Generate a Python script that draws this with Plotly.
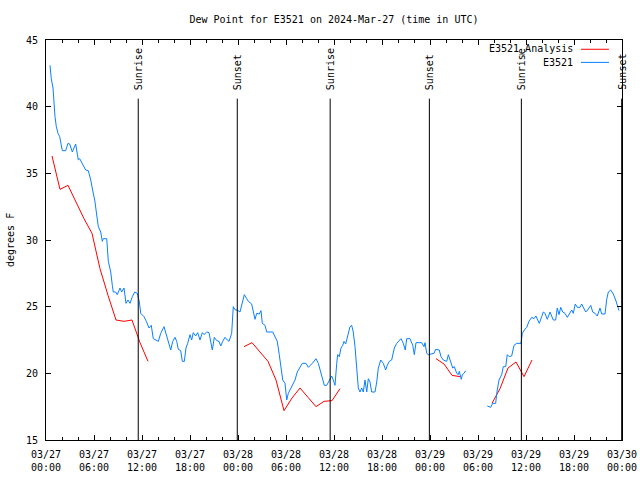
import pandas as pd
import plotly.graph_objects as go

base = pd.Timestamp("2024-03-27 00:00")

# Observed dew point (E3521), hours after 03/27 00:00 UTC
blue_hours = [
    0.5, 0.66, 0.875, 1.0, 1.125, 1.29, 1.5, 1.71, 1.91, 2.04, 2.46, 2.75, 2.96, 3.29, 3.71,
    4.04, 4.21, 4.54, 4.96, 5.29, 5.59, 5.875, 6.09, 6.29, 6.54, 6.84, 7.04, 7.16, 7.59, 7.79,
    8.09, 8.29, 8.41, 8.71, 8.91, 9.25, 9.46, 9.75, 10.0, 10.25, 10.5, 10.79, 11.09, 11.41,
    11.66, 11.84, 12.25, 12.54, 12.875, 13.16, 13.41, 14.04, 14.34, 14.75, 15.09, 15.41,
    15.59, 15.84, 16.125, 16.34, 16.54, 16.84, 17.04, 17.29, 17.5, 17.71, 18.0, 18.21, 18.41,
    18.71, 18.96, 19.25, 19.54, 19.75, 20.09, 20.375, 20.625, 20.79, 21.04, 21.34, 21.625,
    21.84, 22.09, 22.375, 22.66, 22.875, 23.21, 23.41, 23.66, 23.91, 24.25, 24.54, 24.79,
    25.09, 25.29, 25.71, 25.91, 26.125, 26.34, 26.66, 26.875, 27.04, 27.375, 27.59, 28.34,
    28.625, 28.91, 29.16, 29.375, 29.59, 29.875, 30.09, 30.29, 30.5, 30.84, 31.125, 31.41,
    31.75, 32.04, 32.5, 32.79, 33.29, 33.75, 34.04, 34.34, 34.59, 34.79, 35.09, 35.41,
    35.71, 35.91, 36.125, 36.34, 36.46, 36.66, 36.875, 37.09, 37.25, 37.46, 37.79, 38.0,
    38.21, 38.41, 38.625, 38.84, 39.04, 39.25, 39.46, 39.66, 39.875, 40.09, 40.29, 40.5,
    40.71, 41.125, 41.34, 41.54, 41.84, 42.16, 42.46, 42.66, 42.91, 43.21, 43.54, 43.84,
    44.125, 44.375, 44.66, 44.91, 45.09, 45.5, 45.84, 46.04, 46.25, 46.96, 47.25, 47.375,
    47.59, 47.79, 48.5, 48.71, 49.16, 49.375, 49.66, 50.09, 50.29, 50.59, 50.84, 51.04,
    51.34, 51.54, 51.66, 51.91, 52.04, 52.25, 52.46,
    55.16, 55.59, 55.84, 56.21, 56.34, 56.625, 56.96, 57.16, 57.46, 57.66, 57.91, 58.21,
    58.5, 58.84, 59.375, 59.54, 59.79, 60.09, 60.375, 60.71, 61.0, 61.25, 61.46, 61.66,
    61.96, 62.16, 62.375, 62.66, 63.0, 63.21, 63.41, 63.71, 63.91, 64.125, 64.34, 64.59,
    64.875, 65.16, 65.41, 65.71, 65.91, 66.16, 66.41, 66.75, 66.96, 67.16, 67.46, 67.71,
    68.09, 68.34, 68.625, 68.91, 69.25, 69.46, 69.875, 70.09, 70.29, 70.59, 70.91, 71.21,
    71.41, 71.625,
]
blue_values = [
    43.1, 42.1, 41.4, 40.1, 39.25, 38.5, 38.0, 37.75, 37.1, 36.7, 36.7, 37.25, 37.2, 36.6, 37.2,
    36.0, 36.1, 35.75, 35.25, 35.2, 34.5, 33.6, 33.0, 32.1, 31.0, 30.6, 29.9, 30.1, 30.1, 28.4,
    27.6, 26.6, 26.1, 26.1, 25.9, 26.4, 26.1, 26.4, 25.25, 25.5, 25.25, 25.75, 26.1, 26.0,
    25.4, 24.5, 24.25, 23.9, 23.4, 23.6, 22.6, 22.4, 23.0, 23.5, 22.75, 22.0,
    21.75, 22.4, 22.7, 22.4, 21.8, 21.7, 20.9, 20.9, 21.9, 22.25, 22.9, 22.5, 23.05,
    22.8, 23.05, 22.5, 23.05, 22.9, 23.1, 23.05, 22.1, 21.75, 22.7, 22.45, 22.4,
    22.05, 22.4, 22.7, 22.5, 22.4, 23.0, 25.0, 24.75, 24.75, 24.6, 25.4, 25.9,
    25.6, 25.4, 25.2, 24.5, 24.05, 24.5, 24.45, 24.7, 23.75, 23.6, 23.1, 23.1,
    22.75, 22.4, 21.4, 20.25, 19.5, 19.25, 18.0, 18.5, 18.75, 19.25, 19.5, 20.1,
    20.45, 20.75, 20.75, 20.45, 20.75, 21.1, 20.75, 20.1, 19.6, 19.1, 19.1, 19.5,
    19.8, 19.5, 19.1, 20.75, 21.4, 21.25, 21.9, 22.1, 22.4, 22.2, 23.0, 23.5,
    23.6, 23.1, 22.0, 20.5, 18.9, 18.6, 18.9, 18.6, 19.5, 18.6, 19.6, 19.35,
    18.6, 18.6, 19.35, 20.4, 21.0, 20.75, 20.25, 20.6, 20.9, 21.0, 21.9, 22.25,
    22.4, 22.6, 22.25, 21.75, 22.6, 22.6, 22.1, 21.4, 22.3, 22.3, 22.0, 22.3,
    21.5, 21.4, 21.5, 21.8, 21.75, 21.25, 21.0, 20.9, 21.4, 20.75, 20.4, 20.5,
    20.0, 19.9, 20.15, 19.55, 19.9, 20.0, 20.2,
    17.55, 17.45, 17.75, 17.75, 18.5, 19.5, 19.9, 20.5, 20.5, 21.4, 21.25, 21.3,
    22.1, 22.25, 22.25, 23.0, 23.25, 23.45, 23.9, 24.2, 24.1, 24.3, 24.0, 23.75,
    24.25, 24.6, 24.5, 24.05, 24.6, 24.3, 24.0, 24.0, 24.9, 24.4, 24.95, 24.6,
    24.5, 24.2, 24.5, 24.75, 24.5, 25.2, 24.95, 24.95, 25.2, 25.0, 24.6, 24.75,
    25.1, 24.6, 24.5, 24.3, 24.9, 24.45, 24.45, 25.55, 26.1, 26.25, 25.95, 25.5,
    25.1, 24.7,
]

# Analysis (E3521_Analysis), hourly
red_hours = [
    0.75, 1.75, 2.75, 3.75, 4.75, 5.75, 6.75, 7.75, 8.75, 9.75, 10.75, 11.75, 12.75,
    24.75, 25.75, 26.75, 27.75, 28.75, 29.75, 30.75, 31.75, 32.75, 33.75, 34.75, 35.75, 36.75,
    48.75, 49.75, 50.75, 51.75,
    55.75, 56.75, 57.75, 58.75, 59.75, 60.75,
]
red_values = [
    36.3, 33.8, 34.1, 32.8, 31.6, 30.5, 27.85, 25.85, 24.0, 23.9, 24.0, 22.3, 20.9,
    22.0, 22.3, 21.6, 20.9, 19.5, 17.2, 18.15, 18.9, 18.2, 17.5, 17.9, 17.95, 18.85,
    21.1, 20.7, 19.85, 19.75,
    17.75, 18.85, 20.4, 20.85, 19.75, 21.0,
]

sunrise_hours = [11.53, 35.52, 59.42]
sunset_hours = [23.91, 47.92, 71.96]

tick_hours = list(range(0, 73, 6))

FONT = "DejaVu Sans Mono"


def with_gaps(hours, values, max_gap=1.5):
    xs, ys = [], []
    prev = None
    for h, v in zip(hours, values):
        if prev is not None and h - prev > max_gap:
            xs.append(None)
            ys.append(None)
        xs.append(base + pd.Timedelta(hours=h))
        ys.append(v)
        prev = h
    return xs, ys


bx, by = with_gaps(blue_hours, blue_values)
rx, ry = with_gaps(red_hours, red_values)

fig = go.Figure()
fig.add_trace(go.Scatter(x=rx, y=ry, mode="lines", name="E3521_Analysis",
                         line=dict(color="#ff0000", width=1), connectgaps=False))
fig.add_trace(go.Scatter(x=bx, y=by, mode="lines", name="E3521",
                         line=dict(color="#0a80ff", width=1), connectgaps=False))

shapes = []
annotations = []
for label, hours in (("Sunrise", sunrise_hours), ("Sunset", sunset_hours)):
    for h in hours:
        t = base + pd.Timedelta(hours=h)
        shapes.append(dict(type="line", xref="x", yref="y", x0=t, x1=t, y0=15, y1=40.6,
                           line=dict(color="black", width=1)))
        annotations.append(dict(x=t, y=0.87, xref="x", yref="paper", text=label,
                                textangle=-90, showarrow=False, xanchor="center",
                                yanchor="bottom", font=dict(family=FONT, size=10, color="black")))

# gnuplot-style legend (text right, sample line after)
legend_items = [("E3521_Analysis", "#ff0000", 0.9768), ("E3521", "#0a80ff", 0.944)]
for name, color, yp in legend_items:
    annotations.append(dict(x=0.9184, y=yp, xref="paper", yref="paper", text=name,
                            showarrow=False, xanchor="right", yanchor="middle",
                            font=dict(family=FONT, size=10, color="black")))
    shapes.append(dict(type="line", xref="paper", yref="paper", x0=0.9288, x1=0.9774,
                       y0=yp, y1=yp, line=dict(color=color, width=1)))

annotations.append(dict(x=-0.0625, y=0.5, xref="paper", yref="paper", text="degrees F",
                        textangle=-90, showarrow=False, xanchor="center", yanchor="middle",
                        font=dict(family=FONT, size=10, color="black")))

tickvals = [base + pd.Timedelta(hours=h) for h in tick_hours]
ticktext = [t.strftime("%m/%d") + "<br>" + t.strftime("%H:%M") for t in tickvals]

fig.update_layout(
    width=640, height=480,
    margin=dict(l=46, r=18, t=40, b=40, pad=0, autoexpand=False),
    paper_bgcolor="white", plot_bgcolor="white",
    showlegend=False,
    font=dict(family=FONT, size=10, color="black"),
    title=dict(text="Dew Point for E3521 on 2024-Mar-27 (time in UTC)", x=0.5, xref="paper",
               y=1 - 19 / 480, yref="container", yanchor="middle",
               font=dict(family=FONT, size=10, color="black")),
    shapes=shapes,
    annotations=annotations,
)
fig.update_xaxes(
    range=[base, base + pd.Timedelta(hours=72)],
    automargin=False,
    tickmode="array", tickvals=tickvals, ticktext=ticktext,
    ticks="inside", ticklen=5, tickcolor="black", tickwidth=1,
    ticklabelstandoff=5,
    showline=True, linecolor="black", linewidth=1, mirror="ticks",
    showgrid=False, zeroline=False,
    minor=dict(dtick=2 * 3600 * 1000, tick0=base, ticks="inside", ticklen=3,
               tickcolor="black", showgrid=False),
    tickfont=dict(family=FONT, size=10, color="black"),
)
fig.update_yaxes(
    range=[15, 45], dtick=5, tick0=15,
    automargin=False,
    ticks="inside", ticklen=5, tickcolor="black", tickwidth=1,
    ticklabelstandoff=5,
    showline=True, linecolor="black", linewidth=1, mirror="ticks",
    showgrid=False, zeroline=False,
    tickfont=dict(family=FONT, size=10, color="black"),
)

fig.write_html(
    "out.html",
    config={"displayModeBar": False},
    post_script="document.body.style.margin='0';document.body.style.overflow='hidden';",
)
